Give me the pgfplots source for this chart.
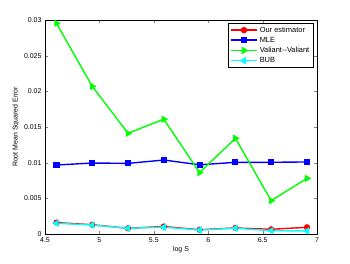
\documentclass[border=0pt]{standalone}
\usepackage{pgfplots}
\pgfplotsset{compat=1.18}
\usepackage{fontspec}
\setmainfont{Liberation Sans}
\definecolor{mred}{rgb}{1,0,0}
\definecolor{mblue}{rgb}{0,0,1}
\definecolor{mgreen}{rgb}{0,1,0}
\definecolor{mcyan}{rgb}{0,1,1}
\begin{document}
\begin{tikzpicture}
\begin{axis}[name=ax, scale only axis, width=272bp, height=214bp,
  xmin=4.5, xmax=7, ymin=0, ymax=0.03,
  xtick={4.5,5,5.5,6,6.5,7}, xticklabels={4.5,5,5.5,6,6.5,7},
  ytick={0,0.005,0.01,0.015,0.02,0.025,0.03},
  yticklabels={0,0.005,0.01,0.015,0.02,0.025,0.03},
  scaled y ticks=false,
  tick align=inside, tick pos=both, major tick length=3bp,
  tick label style={font=\fontsize{7}{8}\selectfont},
  label style={font=\fontsize{7}{8}\selectfont},
  xlabel={log S}, ylabel={Root Mean Squared Error},
  xlabel style={yshift=3bp},
  ylabel style={yshift=-2bp},
  legend style={at={(1,1)}, anchor=north east, xshift=-4bp, yshift=-3bp,
    font=\fontsize{7.5}{8}\selectfont, draw=black, inner sep=1.5pt,
    row sep=-0.6pt, cells={anchor=west}},
  legend image code/.code={\draw[line width=1.6bp,mark repeat=2,mark phase=2] plot coordinates {(0bp,0bp)(13bp,0bp)(26bp,0bp)};},
  every axis plot/.append style={line width=1.4bp},
  mark size=2.4bp,
]
\addplot[color=mred, mark=*, mark options={fill=mred}] coordinates {
(4.6052,0.0016)(4.9341,0.0013)(5.2631,0.0008)(5.5920,0.00105)(5.9210,0.0006)(6.2499,0.00085)(6.5789,0.00066)(6.9078,0.00094)};
\addlegendentry{Our estimator}
\addplot[color=mblue, mark=square*, mark options={fill=mblue}] coordinates {
(4.6052,0.00967)(4.9341,0.00995)(5.2631,0.0099)(5.5920,0.01037)(5.9210,0.0097)(6.2499,0.01005)(6.5789,0.01005)(6.9078,0.0101)};
\addlegendentry{MLE}
\addplot[color=mgreen, mark=triangle*, mark size=2.9bp, mark options={fill=mgreen, rotate=-90}] coordinates {
(4.6052,0.02954)(4.9341,0.0207)(5.2631,0.01412)(5.5920,0.0161)(5.9210,0.0086)(6.2499,0.01342)(6.5789,0.00467)(6.9078,0.0078)};
\addlegendentry{Valiant-{}-Valiant}
\addplot[color=mcyan, mark=triangle*, mark size=2.9bp, mark options={fill=mcyan, rotate=90}] coordinates {
(4.6052,0.0015)(4.9341,0.00126)(5.2631,0.0008)(5.5920,0.00095)(5.9210,0.00056)(6.2499,0.0008)(6.5789,0.00047)(6.9078,0.00042)};
\addlegendentry{BUB}
\end{axis}
\pgfresetboundingbox
\path ([xshift=-45bp,yshift=-30bp]ax.south west) rectangle ([xshift=33bp,yshift=20bp]ax.north east);
\end{tikzpicture}
\end{document}
